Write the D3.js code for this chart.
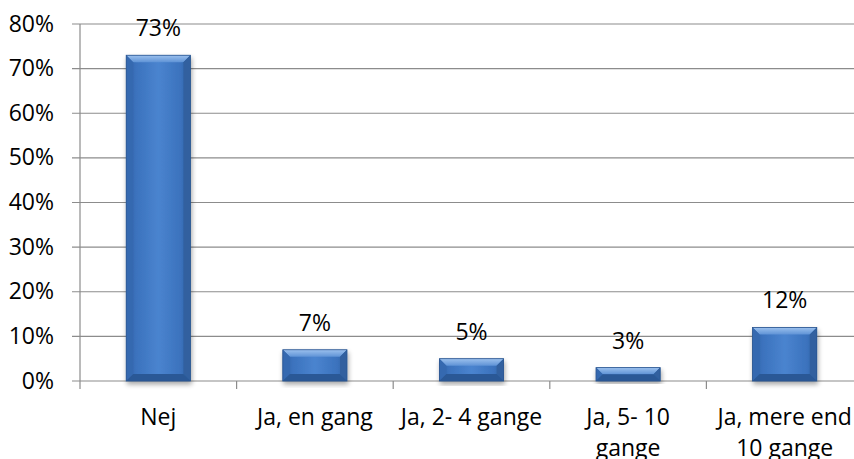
<!DOCTYPE html>
<html>
<head>
<meta charset="utf-8">
<script src="https://cdn.jsdelivr.net/npm/d3@7/dist/d3.min.js"></script>
<style>
  html, body { margin: 0; padding: 0; background: #fff; }
  svg { display: block; font-family: "Open Sans", Lato, sans-serif; }
</style>
</head>
<body>
<svg id="chart" width="854" height="459"></svg>
<script>
// Survey answers and their shares (percent)
const categories = ["Nej", "Ja, en gang", "Ja, 2- 4 gange", "Ja, 5- 10 gange", "Ja, mere end 10 gange"];
const labelLines = [["Nej"], ["Ja, en gang"], ["Ja, 2- 4 gange"], ["Ja, 5- 10", "gange"], ["Ja, mere end", "10 gange"]];
const values = [73, 7, 5, 3, 12];
const yTicks = [0, 10, 20, 30, 40, 50, 60, 70, 80];

const svg = d3.select("#chart");
const margin = { left: 80, top: 24, right: -9, bottom: 78 };
const W = 854, H = 459;
const x0 = margin.left, x1 = W - margin.right;
const yTop = margin.top, yBot = H - margin.bottom;
const fontSize = 23;

const x = d3.scaleBand().domain(categories).range([x0, x1]).paddingInner(0.59).paddingOuter(0.295);
const xCat = d3.scaleBand().domain(categories).range([x0, x1]).padding(0);
const y = d3.scaleLinear().domain([0, 80]).range([yBot, yTop]);

const grid = "#8c8c8c";

// Horizontal gridlines with short ticks to the left
svg.append("g").selectAll("line").data(yTicks).join("line")
  .attr("x1", x0 - 8).attr("x2", x1)
  .attr("y1", d => y(d)).attr("y2", d => y(d))
  .attr("stroke", grid).attr("stroke-width", 1.2);

// Vertical axis line
svg.append("line").attr("x1", x0).attr("x2", x0).attr("y1", yTop).attr("y2", yBot + 8)
  .attr("stroke", grid).attr("stroke-width", 1.2);

// Category dividers on the x axis
svg.append("g").selectAll("line").data(categories.slice(1)).join("line")
  .attr("x1", d => xCat(d)).attr("x2", d => xCat(d))
  .attr("y1", yBot).attr("y2", yBot + 8)
  .attr("stroke", grid).attr("stroke-width", 1.2);

// Y tick labels
svg.append("g").selectAll("text").data(yTicks).join("text")
  .attr("x", 54).attr("y", d => y(d) + 7.5)
  .attr("text-anchor", "end").attr("font-size", fontSize).attr("fill", "#000")
  .text(d => d + "%");

// Gradients for the bevelled bars
const defs = svg.append("defs");
const face = defs.append("linearGradient").attr("id", "face").attr("x1", 0).attr("x2", 1).attr("y1", 0).attr("y2", 0);
face.append("stop").attr("offset", "0%").attr("stop-color", "#2f5f9f");
face.append("stop").attr("offset", "15%").attr("stop-color", "#3b72bd");
face.append("stop").attr("offset", "50%").attr("stop-color", "#4a84cf");
face.append("stop").attr("offset", "85%").attr("stop-color", "#3b72bd");
face.append("stop").attr("offset", "100%").attr("stop-color", "#2f5f9f");
const topG = defs.append("linearGradient").attr("id", "topb").attr("x1", 0).attr("x2", 0).attr("y1", 0).attr("y2", 1);
topG.append("stop").attr("offset", "0%").attr("stop-color", "#9cc1ee");
topG.append("stop").attr("offset", "100%").attr("stop-color", "#5f93d6");
const shadow = defs.append("filter").attr("id", "shadow").attr("x", "-20%").attr("y", "-20%").attr("width", "140%").attr("height", "140%");
shadow.append("feGaussianBlur").attr("in", "SourceAlpha").attr("stdDeviation", 2.5);
shadow.append("feOffset").attr("dx", 1).attr("dy", 3).attr("result", "b");
shadow.append("feComponentTransfer").append("feFuncA").attr("type", "linear").attr("slope", 0.35);
const m = shadow.append("feMerge");
m.append("feMergeNode");
m.append("feMergeNode").attr("in", "SourceGraphic");

const bars = svg.append("g").selectAll("g").data(values).join("g")
  .attr("filter", "url(#shadow)");

bars.each(function(v, i) {
  const g = d3.select(this);
  const bx = x(categories[i]), bw = x.bandwidth();
  const by = y(v), bh = y(0) - y(v);
  const b = Math.min(7, bh / 2);
  g.append("rect").attr("x", bx).attr("y", by).attr("width", bw).attr("height", bh)
    .attr("fill", "url(#face)");
  // top bevel
  g.append("polygon").attr("points", [[bx, by], [bx + bw, by], [bx + bw - b, by + b], [bx + b, by + b]].join(" "))
    .attr("fill", "url(#topb)");
  // left bevel
  g.append("polygon").attr("points", [[bx, by], [bx + b, by + b], [bx + b, by + bh - b], [bx, by + bh]].join(" "))
    .attr("fill", "#3569b0");
  // right bevel
  g.append("polygon").attr("points", [[bx + bw, by], [bx + bw - b, by + b], [bx + bw - b, by + bh - b], [bx + bw, by + bh]].join(" "))
    .attr("fill", "#30609f");
  // bottom bevel
  g.append("polygon").attr("points", [[bx, by + bh], [bx + b, by + bh - b], [bx + bw - b, by + bh - b], [bx + bw, by + bh]].join(" "))
    .attr("fill", "#2a5896");
  g.append("rect").attr("x", bx).attr("y", by).attr("width", bw).attr("height", bh)
    .attr("fill", "none").attr("stroke", "#2a5590").attr("stroke-width", 0.8);
});

// Value labels above bars
svg.append("g").selectAll("text").data(values).join("text")
  .attr("x", (d, i) => x(categories[i]) + x.bandwidth() / 2)
  .attr("y", d => y(d) - 19)
  .attr("text-anchor", "middle").attr("font-size", fontSize).attr("fill", "#000")
  .text(d => d + "%");

// Category labels, wrapped
const cl = svg.append("g").selectAll("text").data(categories).join("text")
  .attr("text-anchor", "middle").attr("font-size", fontSize).attr("fill", "#000");
cl.each(function(c, i) {
  const t = d3.select(this);
  labelLines[i].forEach((line, k) => {
    t.append("tspan").attr("x", xCat(c) + xCat.bandwidth() / 2).attr("y", 425 + k * 31).text(line);
  });
});
</script>
</body>
</html>
